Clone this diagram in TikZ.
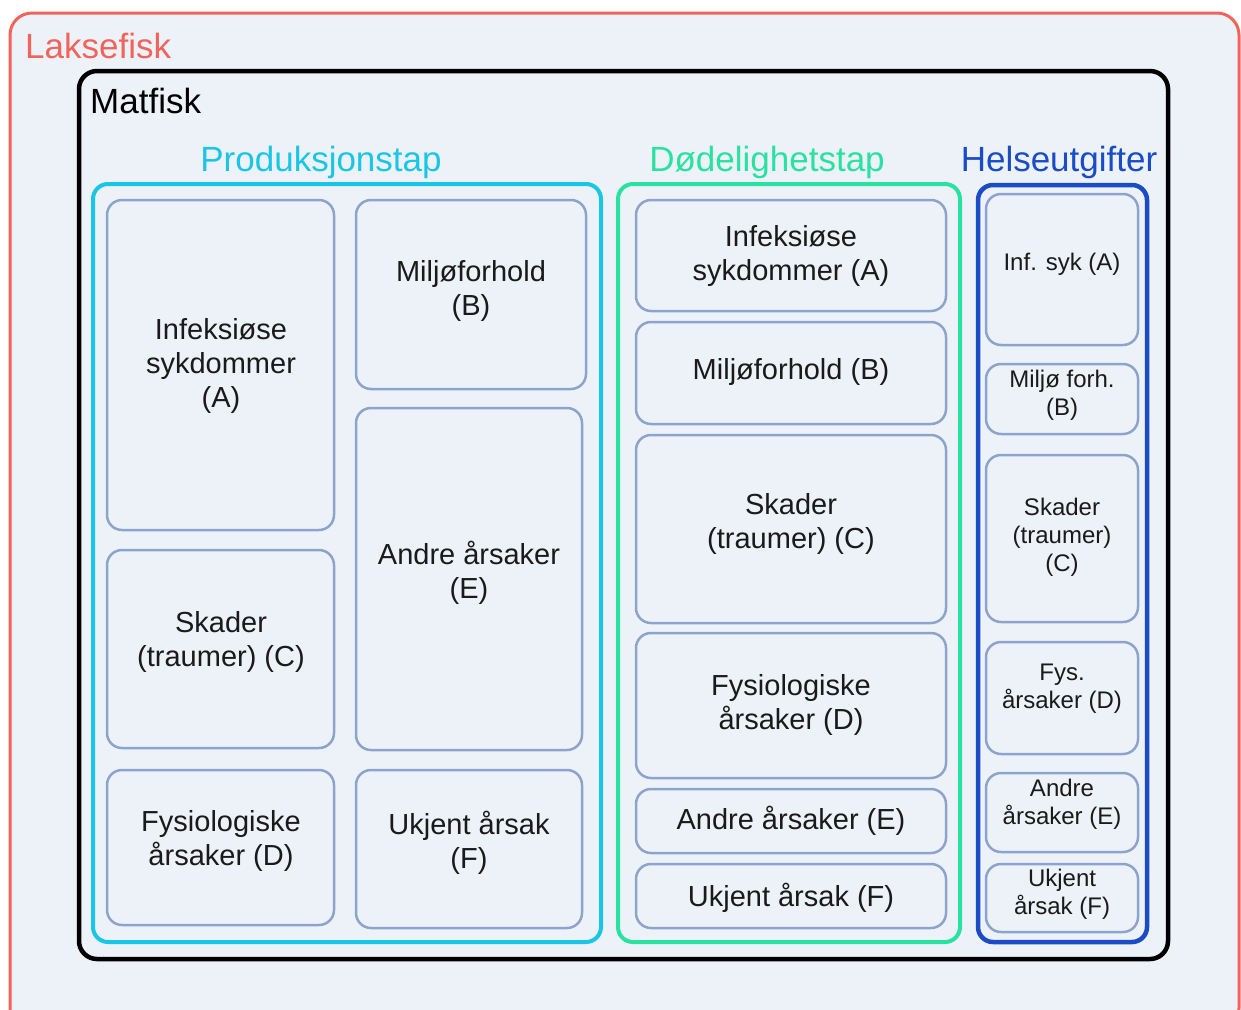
\documentclass[tikz,border=0pt]{standalone}
\usepackage{fontspec}
\setmainfont{Liberation Sans}
\definecolor{bgc}{HTML}{EDF2F9}
\definecolor{redc}{HTML}{F0645C}
\definecolor{cyanc}{HTML}{1AC6E6}
\definecolor{greenc}{HTML}{2AE2A0}
\definecolor{bluec}{HTML}{1A4CC6}
\definecolor{innerc}{HTML}{8CA3CC}
\definecolor{txtc}{HTML}{1A1A1A}
\tikzset{
  outerbox/.style={draw=redc, fill=bgc, line width=3pt, rounded corners=22pt},
  matbox/.style={draw=black, line width=4.5pt, rounded corners=18pt},
  grpbox/.style={line width=4pt, rounded corners=15pt},
  innerbox/.style={draw=innerc, line width=2.5pt, rounded corners=15pt},
  bigtxt/.style={font=\fontsize{29}{34}\selectfont, align=center, text=txtc, inner sep=0pt, yshift=-3pt},
  smalltxt/.style={font=\fontsize{24}{28}\selectfont, align=center, text=txtc, inner sep=0pt, yshift=-2pt},
  titletxt/.style={font=\fontsize{35}{40}\selectfont, inner sep=0pt},
}
\newcommand{\bx}[6]{\node[#6, minimum width={#4-#2}, minimum height={#5-#3}, inner sep=0pt] (#1) at ({(#2+#4)/2},{(#3+#5)/2}) {};}
\begin{document}
\begin{tikzpicture}[x=1pt,y=-1pt]
\useasboundingbox (0,0) rectangle (1241,1009);
\clip (0,0) rectangle (1241,1009);
\fill[white] (0,0) rectangle (1241,1009);
% outer boxes
\bx{laks}{10}{13}{1239}{1030}{outerbox}
\bx{mat}{79}{71}{1168}{959}{matbox}
\node[titletxt, text=redc, anchor=base west] (tlaks) at (25,58) {Laksefisk};
\node[titletxt, text=black, anchor=base west] (tmat) at (90,113) {Matfisk};
% group boxes
\bx{prod}{93}{184}{601}{942}{grpbox, draw=cyanc}
\bx{dod}{618}{184}{960}{942}{grpbox, draw=greenc}
\bx{hel}{978}{185}{1147}{942}{grpbox, draw=bluec, line width=4.5pt}
\node[titletxt, text=cyanc, anchor=base] (tprod) at (321,171) {Produksjonstap};
\node[titletxt, text=greenc, anchor=base] (tdod) at (767,171) {Dødelighetstap};
\node[titletxt, text=bluec, anchor=base] (thel) at (1059,171) {Helseutgifter};
% Produksjonstap
\bx{pA}{107}{200}{334}{530}{innerbox}
\bx{pB}{356}{200}{586}{389}{innerbox}
\bx{pE}{356}{408}{582}{750}{innerbox}
\bx{pC}{107}{550}{334}{748}{innerbox}
\bx{pD}{107}{770}{334}{925}{innerbox}
\bx{pF}{356}{770}{582}{928}{innerbox}
\node[bigtxt] (pAt) at (221,363) {Infeksiøse\\sykdommer\\(A)};
\node[bigtxt] (pBt) at (471,288) {Miljøforhold\\(B)};
\node[bigtxt] (pEt) at (469,570) {Andre årsaker\\(E)};
\node[bigtxt] (pCt) at (221,639) {Skader\\(traumer) (C)};
\node[bigtxt] (pDt) at (221,838) {Fysiologiske\\årsaker (D)};
\node[bigtxt] (pFt) at (469,840) {Ukjent årsak\\(F)};
% Dodelighetstap
\bx{dA}{636}{200}{946}{311}{innerbox}
\bx{dB}{636}{322}{946}{424}{innerbox}
\bx{dC}{636}{435}{946}{623}{innerbox}
\bx{dD}{636}{633}{946}{778}{innerbox}
\bx{dE}{636}{789}{946}{853}{innerbox}
\bx{dF}{636}{864}{946}{928}{innerbox}
\node[bigtxt] (dAt) at (791,253) {Infeksiøse\\sykdommer (A)};
\node[bigtxt] (dBt) at (791,369) {Miljøforhold (B)};
\node[bigtxt] (dCt) at (791,521) {Skader\\(traumer) (C)};
\node[bigtxt] (dDt) at (791,702) {Fysiologiske\\årsaker (D)};
\node[bigtxt] (dEt) at (791,818) {Andre årsaker (E)};
\node[bigtxt] (dFt) at (791,895) {Ukjent årsak (F)};
% Helseutgifter
\bx{hA}{986}{194}{1138}{345}{innerbox}
\bx{hB}{986}{364}{1138}{434}{innerbox}
\bx{hC}{986}{455}{1138}{622}{innerbox}
\bx{hD}{986}{642}{1138}{754}{innerbox}
\bx{hE}{986}{773}{1138}{852}{innerbox}
\bx{hF}{986}{864}{1138}{932}{innerbox}
\node[smalltxt] (hAt) at (1062,262) {Inf. syk (A)};
\node[smalltxt] (hBt) at (1062,393) {Miljø forh.\\(B)};
\node[smalltxt] (hCt) at (1062,535) {Skader\\(traumer)\\(C)};
\node[smalltxt] (hDt) at (1062,687) {Fys.\\årsaker (D)};
\node[smalltxt] (hEt) at (1062,802) {Andre\\årsaker (E)};
\node[smalltxt] (hFt) at (1062,892) {Ukjent\\årsak (F)};
\end{tikzpicture}
\end{document}
